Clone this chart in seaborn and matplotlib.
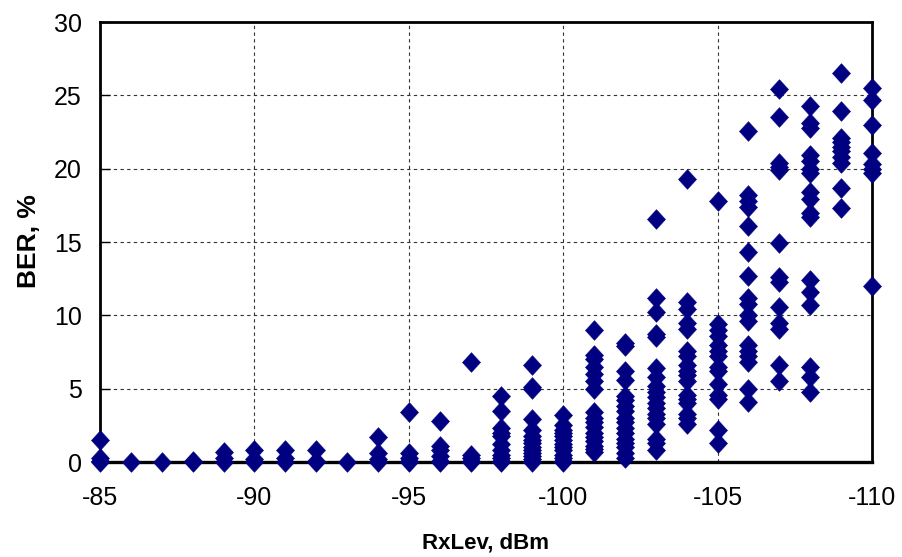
import matplotlib
matplotlib.use("Agg")
import matplotlib.pyplot as plt
import seaborn as sns
import pandas as pd

rxlev_levels = [-85, -86, -87, -88, -89, -90, -91, -92, -93, -94, -95, -96, -97,
                -98, -99, -100, -101, -102, -103, -104, -105, -106, -107, -108, -109, -110]

ber_85 = [1.5, 0.3, 0.1, 0.0]
ber_86 = [0.0]
ber_87 = [0.0]
ber_88 = [0.1, 0.0]
ber_89 = [0.7, 0.3, 0.0]
ber_90 = [0.8, 0.2, 0.0]
ber_91 = [0.8, 0.3, 0.0]
ber_92 = [0.8, 0.1, 0.0]
ber_93 = [0.0]
ber_94 = [1.7, 0.6, 0.2, 0.0]
ber_95 = [3.4, 0.6, 0.3, 0.1, 0.0]
ber_96 = [2.8, 1.1, 0.8, 0.4, 0.1, 0.0]
ber_97 = [6.8, 0.5, 0.3, 0.1, 0.0]
ber_98 = [4.5, 3.5, 2.3, 2.0, 1.8, 1.2, 0.8, 0.5, 0.3, 0.1, 0.0]
ber_99 = [6.6, 5.1, 5.0, 2.9, 2.2, 1.8, 1.5, 1.3, 1.0, 0.8, 0.6, 0.4, 0.2, 0.0]
ber_100 = [3.2, 2.5, 2.2, 2.0, 1.8, 1.5, 1.2, 1.0, 0.8, 0.5, 0.3, 0.1, 0.0]
ber_101 = [9.0, 7.3, 7.0, 6.5, 6.0, 5.5, 5.0, 3.4, 3.0, 2.7, 2.4, 2.0, 1.7, 1.4, 1.1, 0.9, 0.7]
ber_102 = [8.1, 7.9, 6.2, 5.6, 4.5, 4.2, 3.8, 3.5, 3.0, 2.7, 2.3, 2.0, 1.6, 1.3, 1.0, 0.6, 0.3]
ber_103 = [16.6, 11.2, 10.2, 8.7, 8.5, 6.4, 5.8, 5.2, 4.8, 4.4, 4.0, 3.7, 3.3, 3.0, 2.6, 1.6, 1.3, 0.8]
ber_104 = [19.3, 10.9, 10.4, 9.5, 9.1, 7.6, 7.2, 6.6, 6.2, 5.9, 5.5, 4.6, 4.3, 4.0, 3.3, 3.0, 2.6]
ber_105 = [17.8, 9.4, 9.0, 8.6, 8.0, 7.6, 7.2, 6.5, 6.2, 5.3, 4.6, 4.3, 2.2, 1.3]
ber_106 = [22.6, 18.2, 17.8, 17.4, 16.1, 14.3, 12.7, 11.2, 10.8, 10.0, 9.6, 8.0, 7.6, 7.2, 6.8, 5.0, 4.1]
ber_107 = [25.4, 23.5, 20.4, 20.1, 19.9, 14.9, 12.6, 12.3, 10.6, 9.5, 9.1, 6.6, 5.5]
ber_108 = [24.3, 23.1, 22.8, 20.9, 20.5, 20.0, 19.7, 18.4, 17.9, 17.0, 16.7, 12.4, 11.6, 10.7, 6.5, 5.8, 4.8]
ber_109 = [26.5, 23.9, 22.1, 21.8, 21.5, 21.2, 20.8, 20.4, 18.7, 17.3]
ber_110 = [25.5, 24.7, 23.0, 21.1, 20.3, 20.0, 19.7, 12.0]

ber_columns = [ber_85, ber_86, ber_87, ber_88, ber_89, ber_90, ber_91, ber_92, ber_93,
               ber_94, ber_95, ber_96, ber_97, ber_98, ber_99, ber_100, ber_101, ber_102,
               ber_103, ber_104, ber_105, ber_106, ber_107, ber_108, ber_109, ber_110]

x_ticks = [-85, -90, -95, -100, -105, -110]
y_ticks = [0, 5, 10, 15, 20, 25, 30]

rows = []
for lev, vals in zip(rxlev_levels, ber_columns):
    for v in vals:
        rows.append({"RxLev": lev, "BER": v})
df = pd.DataFrame(rows)

sns.set_style("white")
plt.rcParams["font.family"] = ["Liberation Sans", "DejaVu Sans"]
plt.rcParams["text.color"] = "black"
plt.rcParams["axes.labelcolor"] = "black"

fig = plt.figure(figsize=(9.02, 5.57), dpi=100)
ax = fig.add_axes([100 / 902, 1 - 462 / 557, 772 / 902, 440 / 557])

ax.grid(True, which="major", linestyle=(0, (3, 3)), color="#333333", linewidth=0.8)
ax.set_axisbelow(True)

diamond = [(0.0, 1.0), (0.92, 0.0), (0.0, -1.0), (-0.92, 0.0), (0.0, 1.0)]
sns.scatterplot(data=df, x="RxLev", y="BER", ax=ax, marker=diamond, s=200,
                color="#000080", edgecolor="#000080", linewidth=0.4, zorder=3,
                clip_on=False)

ax.set_xlim(-85, -110)
ax.set_ylim(0, 30)
ax.set_xticks(x_ticks)
ax.set_yticks(y_ticks)
ax.set_xticklabels([str(t) for t in x_ticks])
ax.set_yticklabels([str(t) for t in y_ticks])

for sp in ax.spines.values():
    sp.set_color("black")
    sp.set_linewidth(2.0)
    sp.set_visible(True)
ax.spines["bottom"].set_linewidth(2.4)

ax.tick_params(axis="x", direction="out", length=0, width=1, labelsize=18, pad=17, colors="black")
ax.tick_params(axis="y", direction="in", length=7, width=1, labelsize=18, pad=13, colors="black")
ax.tick_params(axis="both", bottom=True, left=True)

ax.set_xlabel("RxLev, dBm", fontsize=16, fontweight="bold", color="black")
ax.set_ylabel("BER, %", fontsize=19, fontweight="bold", color="black")
ax.xaxis.set_label_coords(0.5, (462 - 543) / 440)
ax.xaxis.label.set_va("center")
ax.yaxis.set_label_coords((29 - 100) / 772, (462 - 241) / 440)
ax.yaxis.label.set_va("center")

fig.savefig("out.png", dpi=100, facecolor="white")
